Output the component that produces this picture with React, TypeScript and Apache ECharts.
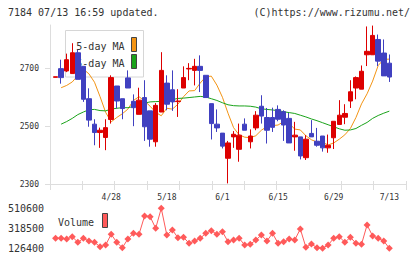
import React, { useEffect, useRef } from "react";
import * as echarts from "echarts";

// Trading days shown on the chart
const dates = [
  "4/14", "4/15", "4/18", "4/19", "4/20", "4/21", "4/22", "4/25", "4/26", "4/27",
  "4/28", "5/2", "5/6", "5/9", "5/10", "5/11", "5/12", "5/13", "5/16", "5/17",
  "5/18", "5/19", "5/20", "5/23", "5/24", "5/25", "5/26", "5/27", "5/30", "5/31",
  "6/1", "6/2", "6/3", "6/6", "6/7", "6/8", "6/9", "6/10", "6/13", "6/14",
  "6/15", "6/16", "6/17", "6/20", "6/21", "6/22", "6/23", "6/24", "6/27", "6/28",
  "6/29", "6/30", "7/1", "7/4", "7/5", "7/6", "7/7", "7/8", "7/11", "7/12",
  "7/13",
];

const opens = [
  2669, 2699, 2691, 2682, 2754, 2707, 2595, 2507, 2478, 2461,
  2523, 2639, 2595, 2667, 2586, 2541, 2599, 2553, 2446, 2549,
  2649, 2626, 2585, 2632, 2698, 2693, 2707, 2676, 2578, 2507,
  2476, 2389, 2463, 2420, 2507, 2446, 2494, 2569, 2530, 2530,
  2558, 2550, 2527, 2463, 2463, 2391, 2475, 2448, 2466, 2425,
  2460, 2506, 2531, 2587, 2632, 2628, 2747, 2747, 2800, 2753,
  2718,
];
const closes = [
  2671, 2668, 2730, 2754, 2662, 2593, 2521, 2478, 2486, 2495,
  2668, 2587, 2561, 2632, 2564, 2590, 2498, 2455, 2572, 2693,
  2576, 2584, 2587, 2668, 2700, 2707, 2693, 2599, 2509, 2494,
  2431, 2442, 2472, 2469, 2486, 2466, 2538, 2535, 2486, 2496,
  2524, 2504, 2442, 2469, 2397, 2455, 2463, 2434, 2425, 2434,
  2517, 2538, 2544, 2619, 2668, 2690, 2759, 2814, 2725, 2674,
  2670,
];
const lows = [
  2669, 2647, 2687, 2682, 2662, 2584, 2498, 2434, 2425, 2417,
  2509, 2561, 2524, 2632, 2500, 2541, 2449, 2429, 2429, 2549,
  2555, 2553, 2532, 2632, 2659, 2641, 2618, 2599, 2454, 2480,
  2423, 2302, 2425, 2377, 2486, 2423, 2486, 2509, 2440, 2480,
  2517, 2449, 2442, 2415, 2385, 2383, 2463, 2429, 2412, 2408,
  2421, 2506, 2507, 2563, 2593, 2628, 2708, 2747, 2708, 2674,
  2653,
];
const highs = [
  2671, 2730, 2751, 2787, 2764, 2707, 2631, 2524, 2495, 2524,
  2676, 2639, 2595, 2693, 2610, 2633, 2659, 2553, 2580, 2756,
  2676, 2693, 2628, 2707, 2718, 2733, 2745, 2676, 2578, 2558,
  2476, 2449, 2483, 2509, 2527, 2489, 2552, 2607, 2563, 2564,
  2572, 2555, 2546, 2515, 2463, 2469, 2521, 2494, 2466, 2471,
  2517, 2590, 2576, 2659, 2672, 2710, 2845, 2848, 2817, 2800,
  2748,
];

const ma5 = [
  null, 2633, 2641, 2653, 2675, 2697, 2681, 2652, 2602, 2548,
  2515, 2530, 2543, 2559, 2589, 2602, 2587, 2569, 2548, 2536,
  2562, 2559, 2576, 2602, 2622, 2623, 2649, 2671, 2673, 2642,
  2600, 2545, 2495, 2470, 2462, 2460, 2467, 2486, 2499, 2502,
  2504, 2516, 2509, 2490, 2487, 2467, 2453, 2445, 2444, 2435,
  2442, 2455, 2470, 2492, 2530, 2577, 2612, 2656, 2710, 2731,
  2732,
];
const ma25 = [
  null, 2507, 2516, 2527, 2540, 2549, 2557, 2558, 2554, 2553,
  2559, 2562, 2564, 2564, 2568, 2575, 2580, 2584, 2585, 2586,
  2588, 2592, 2596, 2597, 2599, 2601, 2603, 2601, 2595, 2589,
  2581, 2574, 2571, 2570, 2570, 2569, 2566, 2560, 2558, 2556,
  2554, 2550, 2547, 2544, 2538, 2532, 2525, 2519, 2512, 2505,
  2498, 2491, 2486, 2487, 2492, 2503, 2513, 2527, 2537, 2545,
  2552,
];

const volumes = [
  222000, 222000, 215700, 237800, 184000, 222000, 196500, 184000, 141800, 158100,
  260900, 184000, 132200, 215700, 270500, 260900, 436600, 430000, 318500, 510600,
  254100, 302200, 228200, 232100, 174400, 196500, 222000, 270500, 295600, 260900,
  285800, 189800, 206100, 222500, 158100, 164800, 206100, 254100, 196500, 270500,
  174400, 189800, 215700, 206100, 311800, 136000, 167700, 132000, 128000, 158100,
  222500, 238000, 184000, 232100, 174400, 164800, 350200, 244500, 222500, 196500,
  126400,
];

const priceTicks = [2300, 2500, 2700];
const volumeTicks = [126400, 318500, 510600];
const labelDates = ["4/28", "5/18", "6/1", "6/15", "6/29", "7/13"];

const MONO = '"DejaVu Sans Mono", monospace';
const UP = "#dd0000";
const DOWN = "#4040c0";
const ORANGE = "#f39414";
const GREEN = "#1aa31a";
const VOL = "#ff5a5a";
const AXIS = "#dddddd";
const TEXT = "#333333";

const plain = (v: number) => String(v);

export default function App() {
  const ref = useRef<HTMLDivElement>(null);

  useEffect(() => {
    if (!ref.current) return;
    const chart = echarts.init(ref.current, null, { renderer: "svg" });

    // one empty slot before the first day and three after the last one
    const axisCats = ["", ...dates, "", "", ""];
    const padLine = (arr: (number | null)[]) => [
      "-",
      ...arr.map((v) => (v == null ? "-" : v)),
      "-",
      "-",
      "-",
    ];
    const candles = [
      ["-", "-", "-", "-"],
      ...dates.map((_, i) => [opens[i], closes[i], lows[i], highs[i]]),
    ];

    const txt = (
      x: number,
      y: number,
      text: string,
      align: string,
      size = 10
    ) => ({
      type: "text",
      x,
      y,
      z: 0,
      style: {
        text,
        font: `${size}px ${MONO}`,
        fill: TEXT,
        align,
        verticalAlign: "middle",
        textAlign: align,
        textVerticalAlign: "middle",
      },
    });

    const swatch = (x: number, y: number, color: string) => ({
      type: "rect",
      z: 0,
      shape: { x, y, width: 5, height: 14 },
      style: { fill: color, stroke: "#444", lineWidth: 1 },
    });

    chart.setOption({
      animation: false,
      backgroundColor: "#ffffff",
      textStyle: { fontFamily: MONO },
      grid: [
        { left: 50, top: 25, width: 356, height: 159 },
        { left: 50, top: 208.3, width: 356, height: 40 },
      ],
      xAxis: [
        {
          type: "category",
          gridIndex: 0,
          data: axisCats,
          boundaryGap: false,
          axisLine: { show: true, lineStyle: { color: AXIS } },
          axisTick: { show: false },
          axisLabel: {
            interval: (_: number, v: string) => labelDates.includes(v),
            margin: 9,
            fontSize: 8,
            fontFamily: MONO,
            color: TEXT,
          },
          splitLine: { show: false },
        },
        {
          type: "value",
          gridIndex: 0,
          min: 0,
          max: 11,
          interval: 1,
          position: "bottom",
          offset: -3,
          axisLine: { show: false },
          axisTick: { show: true, length: 9, lineStyle: { color: AXIS } },
          axisLabel: { show: false },
          splitLine: { show: false },
        },
        {
          type: "category",
          gridIndex: 1,
          data: axisCats,
          boundaryGap: false,
          show: false,
        },
      ],
      yAxis: [
        {
          type: "value",
          gridIndex: 0,
          min: 2300,
          max: 2850,
          axisLine: { show: true, lineStyle: { color: AXIS } },
          axisTick: {
            show: true,
            length: 5,
            customValues: priceTicks,
            lineStyle: { color: AXIS },
          },
          axisLabel: {
            customValues: priceTicks,
            formatter: plain,
            margin: 11,
            fontSize: 8,
            fontFamily: MONO,
            color: TEXT,
          },
          splitLine: { show: false },
        },
        {
          type: "value",
          gridIndex: 1,
          min: 126400,
          max: 510600,
          axisLine: { show: false },
          axisTick: { show: false },
          axisLabel: {
            customValues: volumeTicks,
            formatter: plain,
            margin: 6,
            fontSize: 10,
            fontFamily: MONO,
            color: TEXT,
          },
          splitLine: { show: false },
        },
      ],
      series: [
        {
          name: "5-day MA",
          type: "line",
          xAxisIndex: 0,
          yAxisIndex: 0,
          data: padLine(ma5),
          showSymbol: false,
          symbol: "none",
          z: 1,
          lineStyle: { color: ORANGE, width: 1 },
        },
        {
          name: "25-day MA",
          type: "line",
          xAxisIndex: 0,
          yAxisIndex: 0,
          data: padLine(ma25),
          showSymbol: false,
          symbol: "none",
          z: 1,
          lineStyle: { color: GREEN, width: 1 },
        },
        {
          name: "Price",
          type: "candlestick",
          xAxisIndex: 0,
          yAxisIndex: 0,
          data: candles,
          barWidth: 5,
          z: 3,
          itemStyle: {
            color: UP,
            color0: DOWN,
            borderColor: UP,
            borderColor0: DOWN,
            borderWidth: 1,
          },
        },
        {
          name: "Volume",
          type: "line",
          xAxisIndex: 2,
          yAxisIndex: 1,
          data: padLine(volumes),
          symbol: "diamond",
          symbolSize: 7,
          showSymbol: true,
          showAllSymbol: true,
          itemStyle: { color: VOL },
          lineStyle: { color: VOL, width: 1 },
        },
      ],
      graphic: [
        txt(8, 12, "7184 07/13 16:59 updated.", "left"),
        txt(410, 12, "(C)https://www.rizumu.net/", "right"),
        {
          type: "rect",
          z: 0,
          shape: { x: 65.5, y: 30.5, width: 78, height: 46.5 },
          style: { fill: "#ffffff", stroke: "#d6d6d6", lineWidth: 1 },
        },
        txt(124.5, 46.5, "5-day MA", "right"),
        txt(124.5, 63, "25-day MA", "right"),
        swatch(131.5, 37.5, ORANGE),
        swatch(131.5, 54.5, GREEN),
        txt(58, 222, "Volume", "left"),
        swatch(102.5, 213.5, VOL),
        {
          type: "line",
          z: 0,
          shape: { x1: 50.5, y1: 184, x2: 50.5, y2: 190 },
          style: { stroke: AXIS, lineWidth: 1 },
        },
      ],
    });

    return () => chart.dispose();
  }, []);

  return (
    <div
      ref={ref}
      style={{ position: "fixed", left: 0, top: 0, width: 420, height: 259 }}
    />
  );
}
